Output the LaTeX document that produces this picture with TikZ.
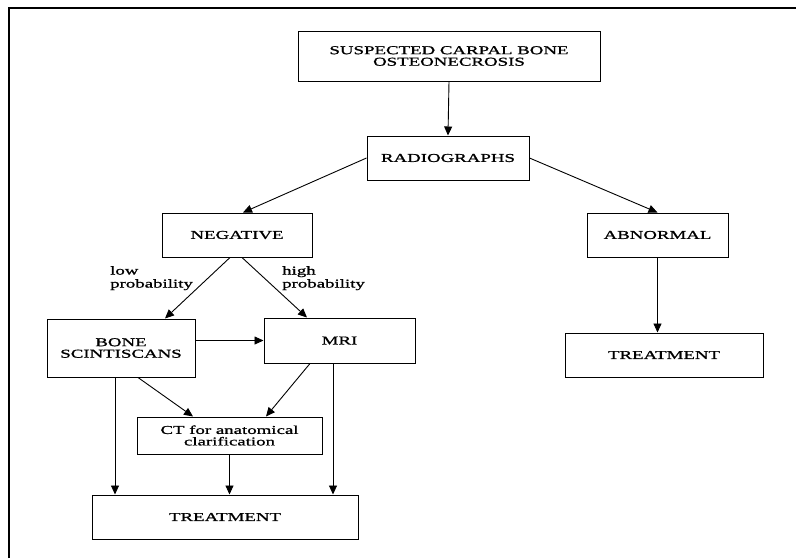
\documentclass[tikz,border=0pt]{standalone}
\usepackage{fontspec}
\setmainfont{Liberation Serif}[FakeStretch=1.57,FakeBold=1.2]
\usetikzlibrary{arrows.meta,calc}
\begin{document}
\begin{tikzpicture}[x=1pt,y=-1pt,
  box/.style={draw,line width=1pt,rectangle,inner sep=0pt,align=center,
    font=\fontsize{12}{11.5}\selectfont},
  lbl/.style={inner sep=0pt,align=left,anchor=north west,font=\fontsize{12}{13}\selectfont},
  arr/.style={line width=0.9pt,-{Triangle[length=9pt,width=8pt]}}]
\useasboundingbox (0,0) rectangle (796,558);
\draw[line width=1.4pt] (9,558) -- (9,8) -- (796,8);
\node[box,minimum width=302pt,minimum height=50pt] (susp) at (449,56) {SUSPECTED CARPAL BONE\\OSTEONECROSIS};
\node[box,minimum width=162pt,minimum height=44pt] (rad) at (448,158) {RADIOGRAPHS};
\node[box,minimum width=150pt,minimum height=44pt] (neg) at (237,235) {NEGATIVE};
\node[box,minimum width=141pt,minimum height=44pt] (abn) at (657.5,235) {ABNORMAL};
\node[box,minimum width=148pt,minimum height=58pt] (bone) at (121,348) {BONE\\SCINTISCANS};
\node[box,minimum width=151pt,minimum height=45pt] (mri) at (339.5,340.5) {MRI};
\node[box,minimum width=185pt,minimum height=37pt] (ct) at (229.5,435.5) {CT for anatomical\\clarification};
\node[box,minimum width=266pt,minimum height=44pt] (tr1) at (225,517) {TREATMENT};
\node[box,minimum width=198pt,minimum height=44pt] (tr2) at (664,355) {TREATMENT};
\node[lbl] (low) at (110,266) {low\\probability};
\node[lbl] (high) at (282,266) {high\\probability};
\draw[arr] (susp.south) -- (rad.north);
\draw[arr] (rad.west) -- ([xshift=6pt]neg.north);
\draw[arr] (rad.east) -- (abn.north);
\draw[arr] (abn.south) -- (abn.south |- tr2.north);
\draw[arr] ([xshift=-7pt]neg.south) -- ([xshift=44pt]bone.north);
\draw[arr] ([xshift=5pt]neg.south) -- ([xshift=-32.5pt]mri.north);
\draw[arr] (mri.west -| bone.east) -- (mri.west);
\draw[arr] ([xshift=-29.5pt]mri.south) -- ([xshift=36.5pt]ct.north);
\draw[arr] ([xshift=-6.5pt]mri.south) -- ([xshift=-6.5pt]mri.south |- tr1.north);
\draw[arr] ([xshift=-6pt]bone.south) -- ([xshift=-6pt]bone.south |- tr1.north);
\draw[arr] ([xshift=17pt]bone.south) -- ([xshift=-36.5pt]ct.north);
\draw[arr] (ct.south) -- (ct.south |- tr1.north);
\end{tikzpicture}
\end{document}
